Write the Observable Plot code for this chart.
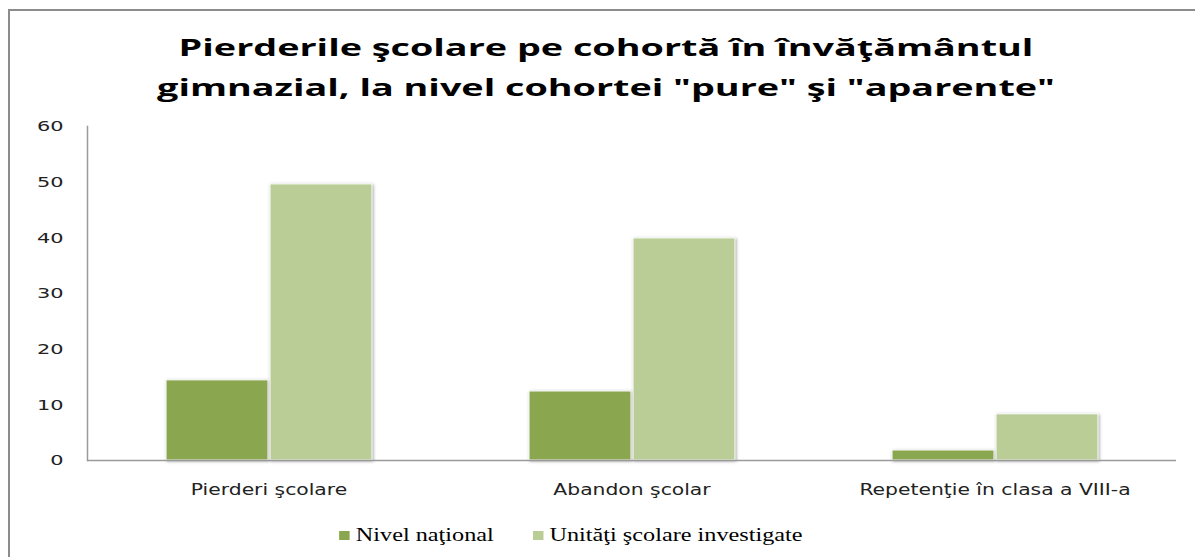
<!DOCTYPE html>
<html>
<head>
<meta charset="utf-8">
<script src="https://cdn.jsdelivr.net/npm/d3@7"></script>
<script src="https://cdn.jsdelivr.net/npm/@observablehq/plot@0.6"></script>
<style>
  html, body { margin: 0; padding: 0; background: #fff; width: 1195px; height: 557px; overflow: hidden; }
  #frame { position: absolute; left: 8px; top: 9px; width: 1200px; height: 560px;
           border-left: 2px solid #8c8c8c; border-top: 2px solid #8c8c8c; }
  #title { position: absolute; left: 0; top: 27px; width: 1212px; text-align: center;
           font-family: "Open Sans", sans-serif; font-weight: 700; font-size: 24px; line-height: 40px; color: #000;
           transform-origin: 606px 0; white-space: nowrap; }
  #title span { display: inline-block; }
  #chart { position: absolute; left: 0; top: 110px; }
  #legend { position: absolute; top: 525px; left: 0; width: 1142px; display: flex; justify-content: center; gap: 30px;
            font-family: "Liberation Serif", "Times New Roman", serif; font-size: 18.5px; color: #000;
            transform-origin: 571px 0; white-space: nowrap; }
  #legend span.item { display: inline-flex; align-items: center; }
  #legend span.sw { display: inline-block; width: 7.5px; height: 9.5px; margin-right: 5px; }
</style>
</head>
<body>
<div id="frame"></div>
<div id="title"><span id="t1">Pierderile şcolare pe cohortă în învăţământul</span><br><span id="t2">gimnazial, la nivel cohortei "pure" şi "aparente"</span></div>
<div id="chart"></div>
<div id="legend"></div>
<script>
const categories = ["Pierderi şcolare", "Abandon şcolar", "Repetenţie în clasa a VIII-a"];
const seriesNames = ["Nivel naţional", "Unităţi şcolare investigate"];
const nivelNational = [14.4, 12.4, 1.8];
const unitatiInvestigate = [49.6, 39.9, 8.3];
const colors = ["#8aa64f", "#bacd96"];
const yTicks = [0, 10, 20, 30, 40, 50, 60];

const data = [];
categories.forEach((c, i) => {
  data.push({category: c, series: seriesNames[0], value: nivelNational[i]});
  data.push({category: c, series: seriesNames[1], value: unitatiInvestigate[i]});
});

const chart = Plot.plot({
  width: 1195,
  height: 420,
  marginTop: 16,
  marginBottom: 70,
  marginLeft: 86,
  marginRight: 18,
  style: {fontFamily: "DejaVu Sans, Verdana, sans-serif", fontSize: "14.7px", color: "#222", background: "transparent"},
  fx: {domain: categories, padding: 0, label: null, axis: "bottom", tickSize: 0, tickPadding: 23},
  x: {domain: seriesNames, axis: null, paddingInner: 0.02, paddingOuter: 0.74},
  y: {domain: [0, 60], ticks: yTicks, label: null, tickSize: 0, tickPadding: 24},
  color: {domain: seriesNames, range: colors},
  marks: [
    Plot.barY(data, {fx: "category", x: "series", y: "value", fill: "series", stroke: "white", strokeWidth: 1}),
    Plot.ruleY([0], {stroke: "#9a9a9a", strokeWidth: 1.5}),
    Plot.frame({anchor: "left", stroke: "#9a9a9a", strokeWidth: 1.5, facetAnchor: "left"})
  ]
});
chart.querySelectorAll('g[aria-label="bar"]').forEach(g => g.style.filter = "drop-shadow(1px 1px 1.5px rgba(0,0,0,0.35))");
document.getElementById("chart").appendChild(chart);

// horizontal stretch of the text (the reference picture is stretched sideways)
function stretch(sel, factor) {
  chart.querySelectorAll(sel).forEach(t => {
    const w = t.getComputedTextLength();
    t.setAttribute("textLength", (w * factor).toFixed(1));
    t.setAttribute("lengthAdjust", "spacingAndGlyphs");
  });
}
stretch('g[aria-label="y-axis tick label"] text', 1.42);
chart.querySelectorAll('g[aria-label="fx-axis tick label"] text').forEach(t => t.style.fontSize = "15.5px");
stretch('g[aria-label="fx-axis tick label"] text', 1.31);

const title = document.getElementById("title");
const w1 = document.getElementById("t1").getBoundingClientRect().width;
title.style.transform = `scaleX(${(855 / w1).toFixed(3)})`;

const legend = document.getElementById("legend");
seriesNames.forEach((s, i) => {
  const item = document.createElement("span");
  item.className = "item";
  const sw = document.createElement("span");
  sw.className = "sw";
  sw.style.background = colors[i];
  item.appendChild(sw);
  item.appendChild(document.createTextNode(s));
  legend.appendChild(item);
});
const lw = legend.firstChild.getBoundingClientRect().width;
const lw2 = legend.lastChild.getBoundingClientRect().width;
const lFactor = (463 / (lw + lw2 + 30));
legend.style.transform = `scaleX(${lFactor.toFixed(3)})`;
</script>
</body>
</html>
